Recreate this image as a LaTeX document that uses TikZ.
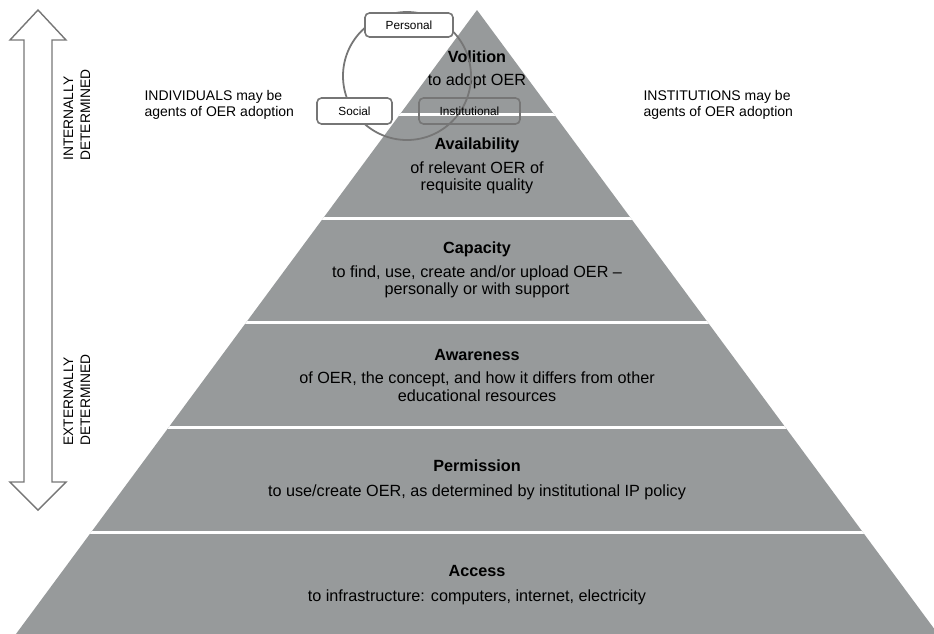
\documentclass[tikz,border=0pt]{standalone}
\usepackage{fontspec}
\setmainfont{Liberation Sans}
\definecolor{pyrgray}{HTML}{979A9B}
\definecolor{linegray}{HTML}{767676}
\begin{document}
\begin{tikzpicture}[x=1pt,y=-1pt,
  pyrtext/.style={align=center,text=black,font=\fontsize{16.2}{17.5}\selectfont},
  sidetext/.style={align=left,anchor=west,text=black,font=\fontsize{14}{16.5}\selectfont},
  vtext/.style={align=left,rotate=90,text=black,font=\fontsize{13.8}{17}\selectfont},
  tagbox/.style={draw=linegray,line width=1.6pt,rounded corners=4.5pt,inner sep=0pt,font=\fontsize{11.8}{13}\selectfont,text=black},
]
\useasboundingbox (0,0) rectangle (934,633);
\begin{scope}
  \clip (0,0) rectangle (934,633);
  \fill[pyrgray] (477,10) -- (941,638) -- (13,638) -- cycle;
  \begin{scope}
    \clip (477,10) -- (941,638) -- (13,638) -- cycle;
    \foreach \yy in {114,218,322,427,532}
      \draw[white,line width=3pt] (0,\yy) -- (934,\yy);
  \end{scope}
\end{scope}

% left double arrow
\draw[linegray,line width=1.4pt,line join=miter]
  (38,10) -- (66,40) -- (52,40) -- (52,482) -- (66,482) -- (38,510)
  -- (10,482) -- (24,482) -- (24,40) -- (10,40) -- cycle;
\node[vtext] (intl) at (77,115) {INTERNALLY\\DETERMINED};
\node[vtext] (extl) at (77,400) {EXTERNALLY\\DETERMINED};

% side labels
\node[sidetext] (indiv) at (141,105) {INDIVIDUALS may be\\agents of OER adoption};
\node[sidetext] (inst) at (640,105) {INSTITUTIONS may be\\agents of OER adoption};

% pyramid texts
\node[pyrtext] (volition) at (477,70) {\textbf{Volition}\\[6pt]to adopt OER};
\node[pyrtext] (availability) at (477,166) {\textbf{Availability}\\[6pt]of relevant OER of\\requisite quality};
\node[pyrtext] (capacity) at (477,270) {\textbf{Capacity}\\[6pt]to find, use, create and/or upload OER --\\personally or with support};
\node[pyrtext] (awareness) at (477,375) {\textbf{Awareness}\\[6pt]of OER, the concept, and how it differs from other\\educational resources};
\node[pyrtext] (permission) at (477,480) {\textbf{Permission}\\[7pt]to use/create OER, as determined by institutional IP policy};
\node[pyrtext] (access) at (477,585) {\textbf{Access}\\[7pt]to infrastructure: computers, internet, electricity};

% circle and tags
\node[draw=linegray,line width=1.8pt,circle,minimum size=128pt,inner sep=0pt] (ring) at (407,76) {};
\node[tagbox,fill=white,minimum width=88pt,minimum height=24pt] (personal) at (409,25) {Personal};
\node[tagbox,fill=white,minimum width=75pt,minimum height=26pt] (social) at (354.5,111) {Social};
\node[tagbox,minimum width=101pt,minimum height=26pt] (institutional) at (469.5,111) {Institutional};
\end{tikzpicture}
\end{document}
